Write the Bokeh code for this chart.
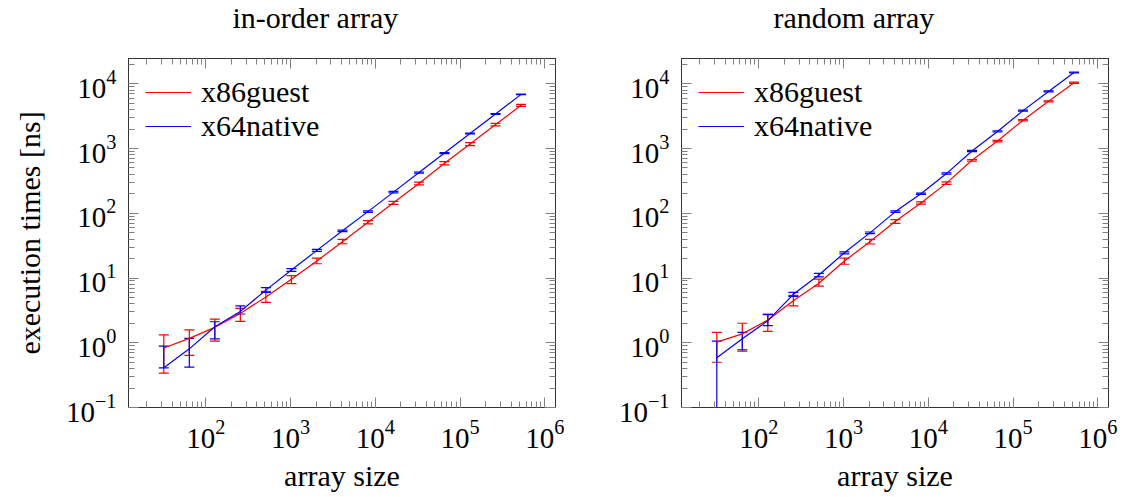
from bokeh.plotting import figure
from bokeh.models import LogAxis, LogTicker, Whisker, TeeHead, ColumnDataSource, Range1d
from bokeh.layouts import row, column
from bokeh.embed import file_html
from bokeh.resources import INLINE

# ---------------- data ----------------
sizes = [32, 64, 128, 256, 512, 1024, 2048, 4096, 8192, 16384, 32768, 65536, 131072, 262144, 524288]

inorder_x86_mean = [0.83, 1.17, 1.73, 2.84, 5.1, 9.6, 18.3, 36.2, 72.6, 145, 288, 592, 1172, 2342, 4645]
inorder_x86_lo = [0.34, 0.64, 1.06, 2.14, 4.2, 8.2, 16.6, 33.8, 68.5, 137, 274, 560, 1110, 2240, 4480]
inorder_x86_hi = [1.32, 1.58, 2.32, 3.4, 6.2, 10.9, 20.3, 39.4, 77, 153, 303, 625, 1235, 2450, 4820]

inorder_x64_mean = [0.41, 0.805, 1.77, 3.05, 6.5, 13.3, 26.7, 53.5, 106, 212, 425, 851, 1706, 3420, 6850]
inorder_x64_lo = [0.41, 0.42, 1.15, 2.78, 6.0, 12.7, 25.8, 52, 103, 207, 416, 836, 1680, 3370, 6780]
inorder_x64_hi = [0.885, 1.17, 2.11, 3.72, 7.1, 14.0, 27.6, 55, 109, 217, 434, 866, 1730, 3470, 6920]

random_x86_mean = [1.02, 1.37, 2.24, 4.45, 8.3, 18.3, 36.2, 75, 144, 292, 658, 1303, 2737, 5357, 10360]
random_x86_lo = [0.50, 0.74, 1.50, 3.7, 7.5, 16.3, 33.5, 70, 138, 280, 640, 1270, 2680, 5250, 10150]
random_x86_hi = [1.45, 2.0, 2.77, 5.4, 9.6, 20.3, 39.5, 80, 150, 305, 676, 1336, 2800, 5460, 10570]

random_x64_mean = [0.586, 1.15, 2.19, 5.6, 11.1, 24.5, 49.8, 106, 200, 410, 914, 1833, 3845, 7620, 14930]
random_x64_lo = [0.1, 0.78, 1.84, 5.2, 10.4, 23.6, 48.3, 103, 195, 400, 895, 1800, 3780, 7500, 14750]
random_x64_hi = [1.06, 1.45, 2.71, 6.0, 11.8, 25.4, 51.3, 109, 205, 420, 933, 1866, 3910, 7740, 15100]

series_names = ["x86guest", "x64native"]
series_colors = ["#ff0000", "#0000ff"]
titles = ["in-order array", "random array"]
x_label = "array size"
y_label = "execution times [ns]"

FONT = "Liberation Serif"
FS = "29px"
LFS = "30px"


def style_axis(ax, show_labels=True):
    ax.axis_line_color = "#333333"
    ax.axis_line_width = 1
    ax.major_tick_in = 10
    ax.major_tick_out = 0
    ax.minor_tick_in = 6
    ax.minor_tick_out = 0
    ax.major_tick_line_color = "#808080"
    ax.minor_tick_line_color = "#808080"
    ax.major_label_text_font = FONT
    ax.major_label_text_color = "#000000"
    if show_labels:
        ax.major_label_text_font_size = FS
        ax.major_label_standoff = 12
    else:
        ax.major_label_text_font_size = "2px"
        ax.major_label_text_alpha = 0
        ax.major_label_standoff = 0


def make_title(text, width, bl, br, offset):
    t = figure(width=width, height=40, x_axis_location=None, y_axis_location=None,
               output_backend="svg", toolbar_location=None,
               min_border_left=bl, min_border_right=br, min_border_top=0, min_border_bottom=0)
    t.xgrid.visible = False
    t.ygrid.visible = False
    t.outline_line_color = None
    t.background_fill_color = "white"
    t.border_fill_color = "white"
    t.title.text = text
    t.title.align = "left"
    t.title.offset = offset
    t.title.standoff = 0
    t.title.vertical_align = "top"
    t.title.text_font = FONT
    t.title.text_font_size = LFS
    t.title.text_font_style = "normal"
    t.title.text_color = "#000000"
    return t


def make_panel(data, width, bl, br, show_ylabel):
    p = figure(width=width, height=454, x_axis_type="log", y_axis_type="log",
               x_range=Range1d(12.27, 1.336e6), y_range=Range1d(0.1, 24550),
               output_backend="svg", toolbar_location=None,
               min_border_left=bl, min_border_right=br,
               min_border_top=18, min_border_bottom=84)
    p.xgrid.visible = False
    p.ygrid.visible = False
    p.outline_line_color = "#333333"
    p.outline_line_width = 1
    p.background_fill_color = "white"
    p.border_fill_color = "white"

    p.xaxis.ticker = LogTicker(num_minor_ticks=10)
    p.yaxis.ticker = LogTicker(num_minor_ticks=10)
    style_axis(p.xaxis[0])
    style_axis(p.yaxis[0])
    p.xaxis.axis_label = x_label
    p.xaxis.axis_label_text_font = FONT
    p.xaxis.axis_label_text_font_size = LFS
    p.xaxis.axis_label_text_font_style = "normal"
    p.xaxis.axis_label_text_color = "#000000"
    p.xaxis.axis_label_standoff = 8
    if show_ylabel:
        p.yaxis.axis_label = y_label
        p.yaxis.axis_label_text_font = FONT
        p.yaxis.axis_label_text_font_size = LFS
        p.yaxis.axis_label_text_font_style = "normal"
        p.yaxis.axis_label_text_color = "#000000"
        p.yaxis.axis_label_standoff = 17

    top = LogAxis(ticker=LogTicker(num_minor_ticks=10))
    style_axis(top, False)
    p.add_layout(top, "above")
    right = LogAxis(ticker=LogTicker(num_minor_ticks=10))
    style_axis(right, False)
    p.add_layout(right, "right")

    for (mean, lo, hi), name, color in zip(data, series_names, series_colors):
        src = ColumnDataSource(dict(x=sizes, y=mean, lo=lo, hi=hi))
        p.line("x", "y", source=src, line_color=color, line_width=1.2, legend_label=name)
        w = Whisker(base="x", lower="lo", upper="hi", source=src, dimension="height",
                    line_color=color, line_width=1.2,
                    upper_head=TeeHead(size=10, line_color=color, line_width=1.2),
                    lower_head=TeeHead(size=10, line_color=color, line_width=1.2))
        p.add_layout(w)

    lg = p.legend[0]
    lg.location = "top_left"
    lg.label_text_font = FONT
    lg.label_text_font_size = LFS
    lg.label_text_color = "#000000"
    lg.border_line_alpha = 0
    lg.background_fill_alpha = 0
    lg.glyph_width = 46
    lg.label_standoff = 10
    lg.margin = 9
    lg.padding = 8
    lg.spacing = 0
    return p


t_left = make_title(titles[0], 607, 128, 52, 104)
t_right = make_title(titles[1], 511, 74, 10, 92)
left = make_panel([(inorder_x86_mean, inorder_x86_lo, inorder_x86_hi),
                   (inorder_x64_mean, inorder_x64_lo, inorder_x64_hi)],
                  607, 128, 52, True)
rightp = make_panel([(random_x86_mean, random_x86_lo, random_x86_hi),
                     (random_x64_mean, random_x64_lo, random_x64_hi)],
                    511, 74, 10, False)

layout = column(row(t_left, t_right, spacing=0), row(left, rightp, spacing=0), spacing=0)
open("out.html", "w").write(file_html(layout, INLINE))
